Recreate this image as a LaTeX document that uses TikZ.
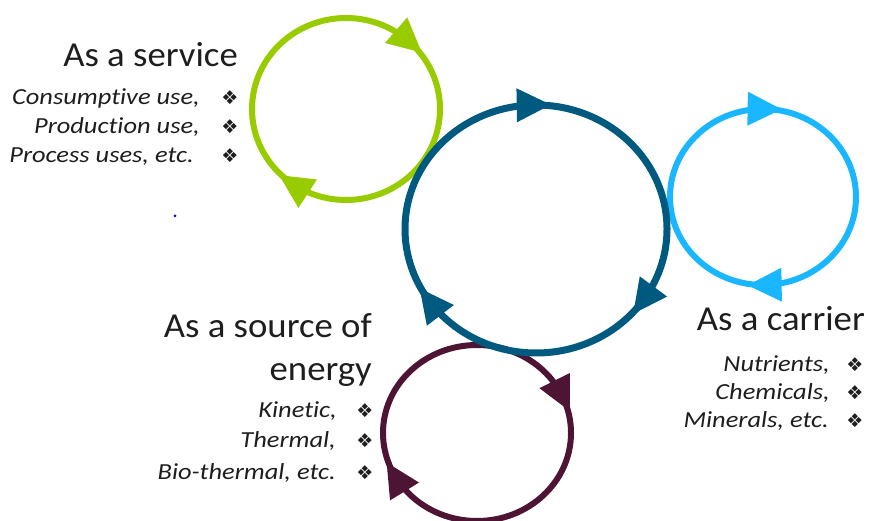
\documentclass[tikz,border=0pt]{standalone}
\usepackage{graphicx}
\usepackage{fontspec}
\setmainfont{Carlito}[Ligatures=NoCommon]
\newfontfamily\symfont{DejaVu Sans}
\definecolor{cgreen}{RGB}{153,204,0}
\definecolor{cdblue}{RGB}{0,90,128}
\definecolor{clblue}{RGB}{26,182,255}
\definecolor{cpurple}{RGB}{77,20,52}
\definecolor{ctext}{RGB}{30,30,30}
\newcommand\itx[1]{\scalebox{1.15}[1]{#1}}
\newcommand\ttx[1]{\scalebox{1.05}[1]{#1}}
\newcommand\cyctip[5]{%
  \pgfmathsetmacro\tdir{atan2(-(#3)*cos(#4),(#2)*sin(#4))}%
  \path (#1) ++(#4:#2 and #3) coordinate (tipmid);
  \begin{scope}[shift={(tipmid)},rotate=\tdir]
    \fill[#5] (17,0) -- (-17,17) -- (-17,-17) -- cycle;
  \end{scope}}
\begin{document}
\begin{tikzpicture}[x=1pt,y=1pt,
  title/.style={font=\fontsize{35}{37}\selectfont,text=ctext,inner sep=0pt,anchor=base east},
  item/.style={font=\fontsize{23}{26}\selectfont\itshape,text=ctext,inner sep=0pt,anchor=base east},
  bul/.style={font=\symfont\fontsize{19}{22}\selectfont,text=ctext,inner sep=0pt,anchor=base},
  ring/.style={line width=6pt}]
\useasboundingbox (0,0) rectangle (869,521);
% centres
\coordinate (cg) at (346,412);
\coordinate (cd) at (536,292);
\coordinate (cl) at (763,324);
\coordinate (cp) at (477,88);
% rings
\draw[ring,cgreen] (cg) ellipse [x radius=94,y radius=91];
\draw[ring,cpurple] (cp) ellipse [x radius=94,y radius=88];
\draw[ring,clblue] (cl) ellipse [x radius=93,y radius=88];
\draw[ring,cdblue,line width=7pt] (cd) ellipse [x radius=131,y radius=124];
% arrow heads (clockwise)
\cyctip{cg}{94}{91}{48}{cgreen}
\cyctip{cg}{94}{91}{236}{cgreen}
\cyctip{cd}{131}{124}{91}{cdblue}
\cyctip{cd}{131}{124}{325}{cdblue}
\cyctip{cd}{131}{124}{216}{cdblue}
\cyctip{cl}{93}{88}{89}{clblue}
\cyctip{cl}{93}{88}{271}{clblue}
\cyctip{cp}{94}{88}{25}{cpurple}
\cyctip{cp}{94}{88}{210}{cpurple}
% service
\node[title] (t1) at (238,454) {\ttx{As a service}};
\node[item] (s1) at (200,416) {\itx{Consumptive use,}};
\node[item] (s2) at (200,387) {\itx{Production use,}};
\node[item] (s3) at (194,358) {\itx{Process uses, etc.}};
\node[bul] (b1) at (230,416) {❖};
\node[bul] (b2) at (230,387) {❖};
\node[bul] (b3) at (230,358) {❖};
% source of energy
\node[title] (t2a) at (372,183) {\ttx{As a source of}};
\node[title] (t2b) at (372,140) {\ttx{energy}};
\node[item] (e1) at (337,103) {\itx{Kinetic,}};
\node[item] (e2) at (336,73) {\itx{Thermal,}};
\node[item] (e3) at (336,41) {\itx{Bio-thermal, etc.}};
\node[bul] (b4) at (365,103) {❖};
\node[bul] (b5) at (365,73) {❖};
\node[bul] (b6) at (365,41) {❖};
% carrier
\node[title] (t3) at (865,190) {\ttx{As a carrier}};
\node[item] (c1) at (830,149) {\itx{Nutrients,}};
\node[item] (c2) at (830,121) {\itx{Chemicals,}};
\node[item] (c3) at (829,93) {\itx{Minerals, etc.}};
\node[bul] (b7) at (855,149) {❖};
\node[bul] (b8) at (855,121) {❖};
\node[bul] (b9) at (855,93) {❖};
% stray dot
\fill[blue] (175,305) circle (1.5);
\end{tikzpicture}
\end{document}
